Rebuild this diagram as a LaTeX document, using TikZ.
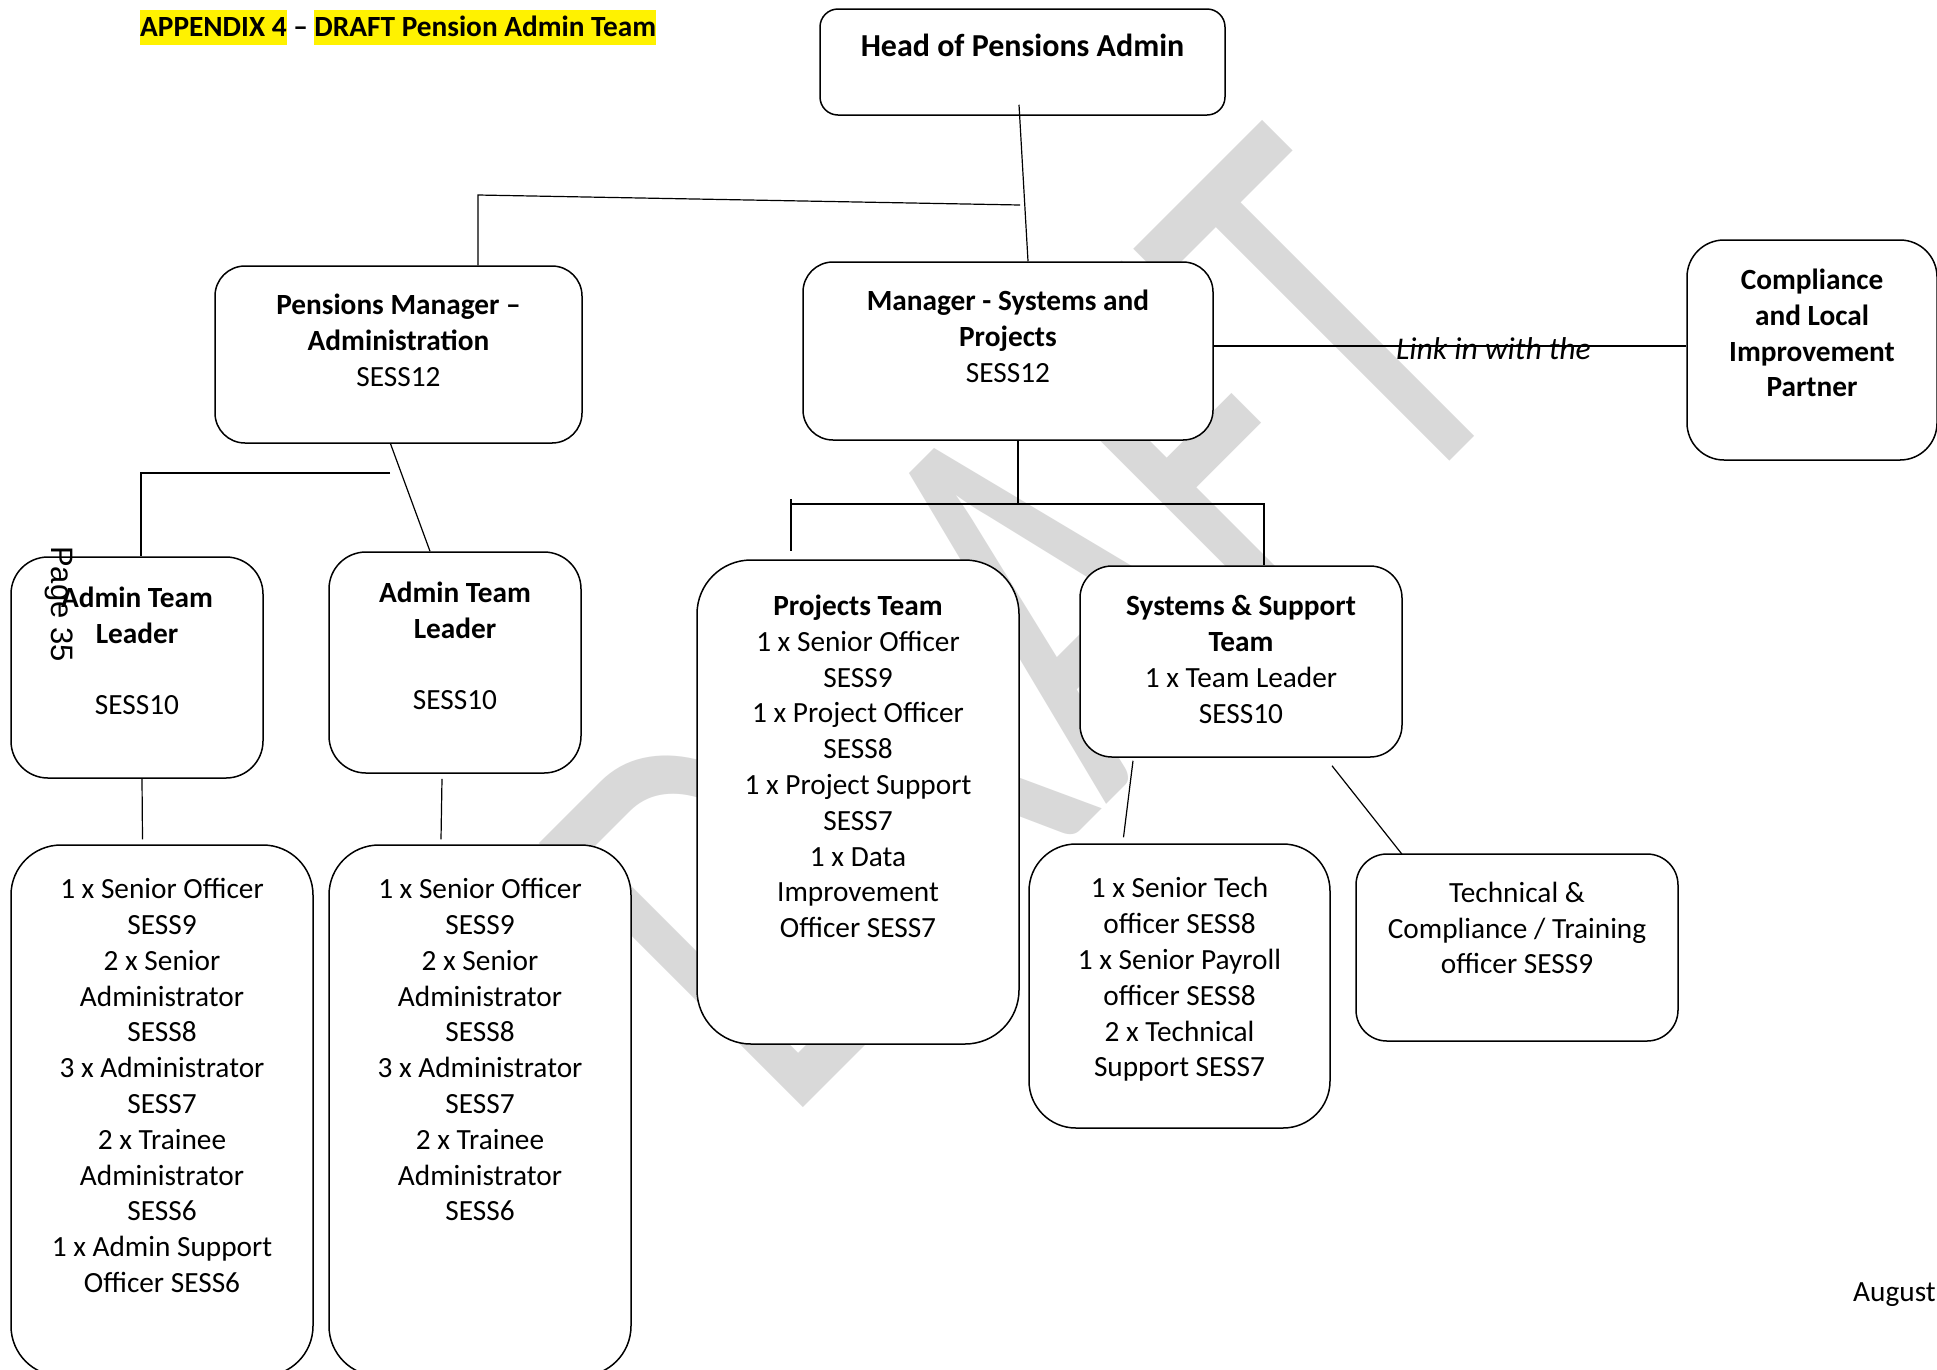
\documentclass[tikz,border=0pt]{standalone}
\usepackage{fontspec}
\setmainfont{Carlito}
\newfontfamily\pagefont{Liberation Sans}
\usetikzlibrary{fit}
\usetikzlibrary{calc}
\newcommand{\hilite}[1]{{\setlength{\fboxsep}{0pt}\colorbox{yellow}{\rule[-9pt]{0pt}{35pt}#1}}}

\begin{document}
\begin{tikzpicture}[x=1pt, y=-1pt, font=\fontsize{29.3}{35.8}\selectfont,
    orgbox/.style={draw, fill=white, line width=1.5pt, inner sep=0pt},
    boxtext/.style={align=center, inner sep=0pt, anchor=north, execute at begin node={\strut}},
    link/.style={line width=1.2pt}]
  % page
  \fill[white] (0,0) rectangle (1937,1369);
  \useasboundingbox (0,0) rectangle (1937,1369);
  % watermark
  \node[rotate=45, inner sep=0pt, text=black!15, font=\fontsize{582}{600}\selectfont] (wmark) at (1025,622) {\scalebox{0.675}[1]{DRAFT}};
  % title
  \node[anchor=base west, inner sep=0pt, font=\fontsize{29.3}{35.8}\selectfont\bfseries] (title) at (140,36) {\hilite{APPENDIX 4} – \hilite{DRAFT Pension Admin Team}};

  % boxes
  \node[orgbox, rounded corners=18pt, fit={(820,9) (1225,115)}] (head) {};
  \node[orgbox, rounded corners=30pt, fit={(215,266) (582,443)}] (pma) {};
  \node[orgbox, rounded corners=30pt, fit={(803,262) (1213,440)}] (msp) {};
  \node[orgbox, rounded corners=37pt, fit={(1687,240) (1937,460)}] (clip) {};
  \node[orgbox, rounded corners=37pt, fit={(11,557) (263,778)}] (atl1) {};
  \node[orgbox, rounded corners=37pt, fit={(329,552) (581,773)}] (atl2) {};
  \node[orgbox, rounded corners=54pt, fit={(697,560) (1019,1044)}] (pteam) {};
  \node[orgbox, rounded corners=32pt, fit={(1080,566) (1402,757)}] (ssteam) {};
  \node[orgbox, rounded corners=50pt, fit={(11,845) (313,1376)}] (sadm1) {};
  \node[orgbox, rounded corners=50pt, fit={(329,845) (631,1376)}] (sadm2) {};
  \node[orgbox, rounded corners=47pt, fit={(1029,844) (1330,1128)}] (stech) {};
  \node[orgbox, rounded corners=31pt, fit={(1356,854) (1678,1041)}] (tcomp) {};

  % joints
  \coordinate (headtap) at (1020,205);
  \coordinate (pmabend) at (478,195);
  \coordinate (atltap) at (390,473);
  \coordinate (atlbend) at (141,473);
  \coordinate (bartap) at (1018,504);
  \coordinate (barleft) at (791,504);
  \coordinate (barright) at (1264,504);
  \coordinate (ptick) at (791,551);

  % connectors
  \draw[link] ([xshift=-3.5pt,yshift=11pt]head.south) -- ([xshift=20pt]msp.north);
  \draw[link] (headtap) -- (pmabend) -- (pmabend |- pma.north);
  \draw[link] ([xshift=-8pt]pma.south) -- ([xshift=-25pt]atl2.north);
  \draw[link] (atltap) -- (atlbend) -- (atlbend |- atl1.north);
  \draw[link] (bartap |- msp.south) -- (bartap);
  \draw[link] (barleft) -- (barright) -- (barright |- ssteam.north);
  \draw[link] ([yshift=5pt]barleft) -- (ptick);
  \draw[link] ([xshift=-108pt,yshift=-3pt]ssteam.south) -- ([xshift=-56pt,yshift=6pt]stech.north);
  \draw[link] ([xshift=91pt,yshift=-8pt]ssteam.south) -- ([xshift=-115pt,yshift=-1pt]tcomp.north);
  \draw[link] ([xshift=5pt]atl1.south) -- ([xshift=-19.5pt,yshift=5pt]sadm1.north);
  \draw[link] ([xshift=-13pt,yshift=-5pt]atl2.south) -- ([xshift=-39pt,yshift=5pt]sadm2.north);
  \draw[link] ([yshift=5pt]msp.east) -- ([yshift=5pt]msp.east -| clip.west);
  \node[anchor=base west, inner sep=0pt, font=\fontsize{31.6}{35.8}\selectfont\itshape] (linktext) at (1396,359) {Link in with the};

  % box texts
  \node[boxtext, font=\fontsize{32}{38}\selectfont] (headtext) at ([yshift=-21.5pt]head.north) {\textbf{Head of Pensions Admin}};
  \node[boxtext] (pmatext) at ([yshift=-28.5pt]pma.north) {\textbf{Pensions Manager –}\\ \textbf{Administration}\\ SESS12};
  \node[boxtext] (msptext) at ([yshift=-28.5pt]msp.north) {\textbf{Manager - Systems and}\\ \textbf{Projects}\\ SESS12};
  \node[boxtext] (cliptext) at ([yshift=-29.5pt]clip.north) {\textbf{Compliance}\\ \textbf{and Local}\\ \textbf{Improvement}\\ \textbf{Partner}};
  \node[boxtext] (atl1text) at ([yshift=-30.5pt]atl1.north) {\textbf{Admin Team}\\ \textbf{Leader}\\[35.8pt] SESS10};
  \node[boxtext] (atl2text) at ([yshift=-30.5pt]atl2.north) {\textbf{Admin Team}\\ \textbf{Leader}\\[35.8pt] SESS10};
  \node[boxtext] (pteamtext) at ([yshift=-35.5pt]pteam.north) {\textbf{Projects Team}\\ 1 x Senior Officer\\ SESS9\\ 1 x Project Officer\\ SESS8\\ 1 x Project Support\\ SESS7\\ 1 x Data\\ Improvement\\ Officer SESS7};
  \node[boxtext] (ssteamtext) at ([yshift=-30pt]ssteam.north) {\textbf{Systems \& Support}\\ \textbf{Team}\\ 1 x Team Leader\\ SESS10};
  \node[boxtext] (sadm1text) at ([yshift=-34pt]sadm1.north) {1 x Senior Officer\\ SESS9\\ 2 x Senior\\ Administrator\\ SESS8\\ 3 x Administrator\\ SESS7\\ 2 x Trainee\\ Administrator\\ SESS6\\ 1 x Admin Support\\ Officer SESS6};
  \node[boxtext] (sadm2text) at ([yshift=-34pt]sadm2.north) {1 x Senior Officer\\ SESS9\\ 2 x Senior\\ Administrator\\ SESS8\\ 3 x Administrator\\ SESS7\\ 2 x Trainee\\ Administrator\\ SESS6};
  \node[boxtext] (stechtext) at ([yshift=-34pt]stech.north) {1 x Senior Tech\\ officer SESS8\\ 1 x Senior Payroll\\ officer SESS8\\ 2 x Technical\\ Support SESS7};
  \node[boxtext] (tcomptext) at ([yshift=-28.5pt]tcomp.north) {Technical \&\\ Compliance / Training\\ officer SESS9};

  % page furniture
  \node[rotate=-90, anchor=base west, inner sep=0pt, font=\pagefont\fontsize{31}{36}\selectfont] (pagenum) at (51,546) {Page 35};
  \node[anchor=base west, inner sep=0pt] (month) at (1853,1301) {August};
\end{tikzpicture}
\end{document}
